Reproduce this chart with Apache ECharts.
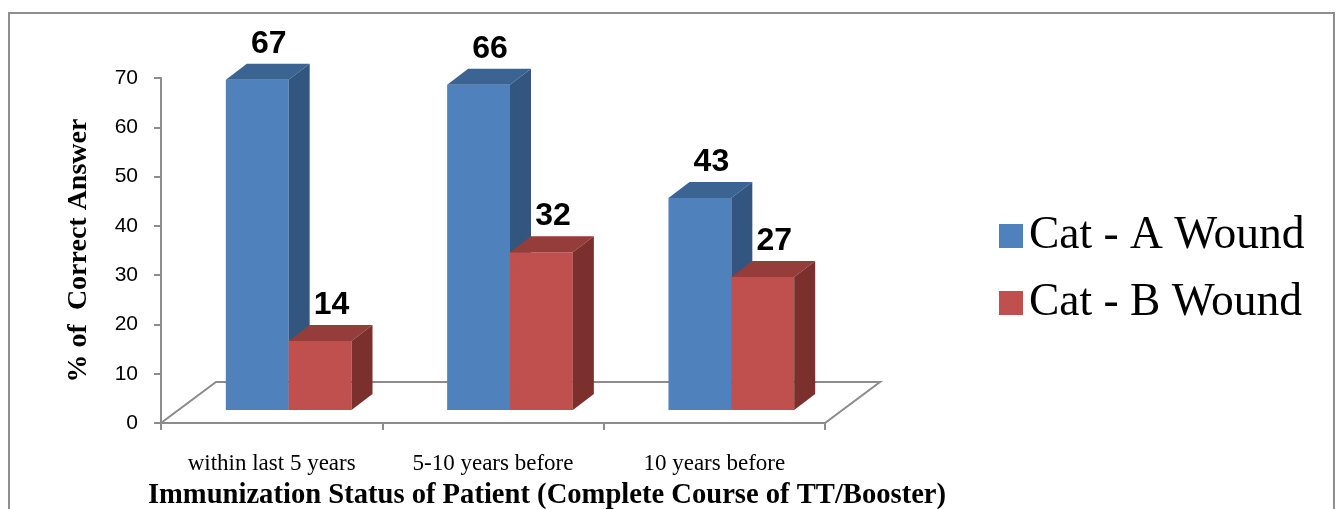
<!DOCTYPE html>
<html>
<head>
<meta charset="utf-8">
<script src="https://cdn.jsdelivr.net/npm/echarts@6/dist/echarts.min.js"></script>
<style>
html,body{margin:0;padding:0;background:#fff;}
#chart{width:1338px;height:509px;}
</style>
</head>
<body>
<div id="chart"></div>
<script>
const categories = ['within last 5 years', '5-10 years before', '10 years before'];
const catA = [67, 66, 43];
const catB = [14, 32, 27];
const seriesNames = ['Cat - A Wound', 'Cat - B Wound'];
const yTicks = { min: 0, max: 70, interval: 10 };

// pseudo-3D projection constants (pixels)
const FRONT_DX = 17, FRONT_DY = -13;   // bar front plane offset from axis plane
const DEPTH_DX = 21, DEPTH_DY = -16;   // bar depth
const FLOOR_DX = 55, FLOOR_DY = -41;   // floor depth
const BAR_FRAC = 0.284;

const palette = {
  A: { front: '#4F81BD', top: '#3C6493', side: '#325680' },
  B: { front: '#C0504D', top: '#943D3A', side: '#7B302E' }
};

function makeBarRender(which) {
  const c = palette[which];
  return function (params, api) {
    const idx = api.value(0);
    const val = api.value(1);
    const base = api.coord([idx, 0]);
    const top = api.coord([idx, val]);
    const band = api.size([1, 0])[0];
    const w = band * BAR_FRAC;
    const x0 = (which === 'A' ? base[0] - w : base[0]) + FRONT_DX;
    const yb = base[1] + FRONT_DY;
    const yt = top[1] + FRONT_DY;
    return {
      type: 'group',
      children: [
        { type: 'rect', shape: { x: x0, y: yt, width: w, height: yb - yt },
          style: { fill: c.front } },
        { type: 'polygon', shape: { points: [[x0, yt], [x0 + w, yt], [x0 + w + DEPTH_DX, yt + DEPTH_DY], [x0 + DEPTH_DX, yt + DEPTH_DY]] },
          style: { fill: c.top } },
        { type: 'polygon', shape: { points: [[x0 + w, yt], [x0 + w + DEPTH_DX, yt + DEPTH_DY], [x0 + w + DEPTH_DX, yb + DEPTH_DY], [x0 + w, yb]] },
          style: { fill: c.side } },
        { type: 'text', x: x0 + w / 2 + DEPTH_DX / 2 + 1, y: yt + DEPTH_DY - 20,
          style: { text: String(val), fill: '#000', font: 'bold 32px "Liberation Sans", Arial, sans-serif',
                   align: 'center', verticalAlign: 'middle' } }
      ]
    };
  };
}

function floorRender(params, api) {
  const band = api.size([1, 0])[0];
  const first = api.coord([0, 0]);
  const last = api.coord([categories.length - 1, 0]);
  const x0 = first[0] - band / 2;
  const x1 = last[0] + band / 2;
  const y0 = first[1];
  return {
    type: 'group',
    children: [
      { type: 'polygon', shape: { points: [[x0, y0], [x1, y0], [x1 + FLOOR_DX, y0 + FLOOR_DY], [x0 + FLOOR_DX, y0 + FLOOR_DY]] },
        style: { fill: '#fff', stroke: '#8C8C8C', lineWidth: 2 } }
    ]
  };
}

const chart = echarts.init(document.getElementById('chart'), null, { renderer: 'canvas' });
chart.setOption({
  animation: false,
  backgroundColor: '#fff',
  graphic: [{
    type: 'rect', silent: true, z: -10,
    shape: { x: 9, y: 13, width: 1325, height: 600 },
    style: { fill: 'none', stroke: '#8E8E8E', lineWidth: 2 }
  }],
  legend: {
    orient: 'vertical',
    left: 994, top: 208,
    icon: 'rect',
    itemWidth: 24, itemHeight: 24,
    itemGap: 21,
    data: seriesNames,
    textStyle: { fontFamily: '"Liberation Serif", "Times New Roman", serif', fontSize: 45.5, color: '#000', lineHeight: 45, padding: [0, 0, 0, 1] }
  },
  grid: { left: 161, top: 78, width: 664, height: 345, containLabel: false, outerBoundsMode: 'none' },
  xAxis: {
    type: 'category',
    data: categories,
    boundaryGap: true,
    axisLine: { show: true, lineStyle: { color: '#8C8C8C', width: 2 } },
    axisTick: { show: true, length: 7, lineStyle: { color: '#8C8C8C', width: 2 } },
    axisLabel: { margin: 29, fontFamily: '"Liberation Serif", "Times New Roman", serif', fontSize: 23, color: '#000' },
    splitLine: { show: false },
    name: 'Immunization Status of Patient (Complete Course of TT/Booster)',
    nameLocation: 'middle',
    nameGap: 58,
    nameTextStyle: { fontFamily: '"Liberation Serif", "Times New Roman", serif', fontWeight: 'bold', fontSize: 28.6, color: '#000', padding: [0, 0, 0, 108] }
  },
  yAxis: {
    type: 'value',
    min: yTicks.min, max: yTicks.max, interval: yTicks.interval,
    axisLine: { show: true, lineStyle: { color: '#8C8C8C', width: 2 } },
    axisTick: { show: true, length: 7, lineStyle: { color: '#8C8C8C', width: 2 } },
    axisLabel: { margin: 23, fontFamily: '"Liberation Sans", Arial, sans-serif', fontSize: 21, color: '#000' },
    splitLine: { show: false },
    name: '% of  Correct Answer',
    nameLocation: 'middle',
    nameGap: 68,
    nameTextStyle: { fontFamily: '"Liberation Serif", "Times New Roman", serif', fontWeight: 'bold', fontSize: 28, color: '#000' }
  },
  series: [
    {
      type: 'custom', name: 'floor', silent: true, z: 1,
      renderItem: floorRender,
      data: [[0, 0]],
      encode: { x: 0, y: 1 }
    },
    {
      type: 'custom', name: seriesNames[0], z: 2,
      itemStyle: { color: palette.A.front },
      renderItem: makeBarRender('A'),
      data: catA.map((v, i) => [i, v]),
      encode: { x: 0, y: 1 }
    },
    {
      type: 'custom', name: seriesNames[1], z: 3,
      itemStyle: { color: palette.B.front },
      renderItem: makeBarRender('B'),
      data: catB.map((v, i) => [i, v]),
      encode: { x: 0, y: 1 }
    }
  ]
});
</script>
</body>
</html>
